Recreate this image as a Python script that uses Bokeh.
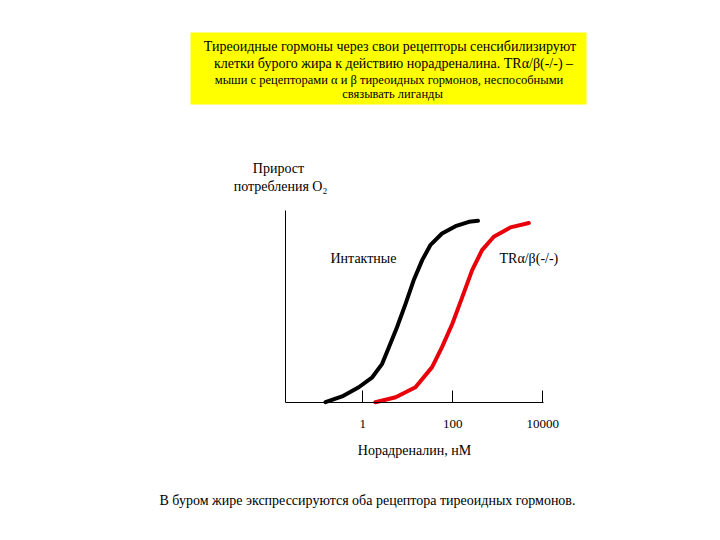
from bokeh.plotting import figure
from bokeh.models import Range1d, Label, FixedTicker, ColumnDataSource, LogAxis, LinearAxis, LogScale
from bokeh.embed import file_html
from bokeh.resources import INLINE

# Data (log10 of noradrenaline concentration, nM) and O2 consumption increase (% of max)
intact_log_nm = [-0.83, -0.46, -0.09, 0.21, 0.43, 0.58, 0.76, 0.95, 1.13, 1.32, 1.50, 1.76, 2.06, 2.36, 2.56]
intact_resp = [0.0, 3.0, 7.8, 13.0, 20.0, 28.7, 39.1, 51.3, 63.6, 74.1, 81.9, 88.0, 91.8, 94.1, 94.6]
ko_log_nm = [0.28, 0.73, 1.17, 1.54, 1.76, 1.99, 2.21, 2.43, 2.65, 2.91, 3.28, 3.69]
ko_resp = [0.0, 2.6, 7.8, 18.3, 28.7, 40.9, 54.8, 68.9, 79.3, 86.3, 91.2, 93.5]
x_ticks = [1, 100, 10000]
x_tick_labels = {1: "1", 100: "100", 10000: "10000"}

intact_x = [10 ** v for v in intact_log_nm]
ko_x = [10 ** v for v in ko_log_nm]

FONT = "Times New Roman"
W, H = 712, 532

# pixel (page) -> data helpers for layout of annotations
X0_PX, PX_PER_DEC = 362.3, 45.0
Y0_PX, Y_SPAN_PX = 401.7, 191.7

def dx(px):
    return 10 ** ((px - X0_PX) / PX_PER_DEC)

def dy(py):
    return (Y0_PX - py) / Y_SPAN_PX * 100.0

X_AX_START = dx(285.0)
X_AX_END = dx(542.6)

p = figure(
    x_axis_type=None, y_axis_type=None,
    x_range=Range1d(dx(0), dx(W)),
    y_range=Range1d(dy(H), dy(0)),
    width=W, height=H,
    min_border=0,
    output_backend="svg", toolbar_location=None,
)
p.x_scale = LogScale()
p.grid.visible = False
p.outline_line_color = None
p.background_fill_color = "white"
p.border_fill_color = "white"

# y axis: bare line
ya = LinearAxis(ticker=FixedTicker(ticks=[]), fixed_location=X_AX_START, bounds=(0, 100))
ya.axis_line_color = "black"
ya.axis_line_width = 1
ya.major_tick_line_color = None
ya.minor_tick_line_color = None
p.add_layout(ya, "left")

# x axis (log)
xa = LogAxis(ticker=FixedTicker(ticks=x_ticks, minor_ticks=[]), fixed_location=0,
             bounds=(X_AX_START, X_AX_END))
xa.major_label_overrides = x_tick_labels
xa.major_tick_in = 12
xa.major_tick_out = 0
xa.major_tick_line_color = "black"
xa.minor_tick_line_color = None
xa.axis_line_color = "black"
xa.major_label_text_font = FONT
xa.major_label_text_font_size = "13px"
xa.major_label_text_color = "black"
xa.major_label_standoff = 18
xa.axis_label = "Норадреналин, нМ"
xa.axis_label_text_font = FONT
xa.axis_label_text_font_style = "normal"
xa.axis_label_text_font_size = "14px"
xa.axis_label_text_color = "black"
xa.axis_label_standoff = 11
p.add_layout(xa, "below")

# yellow title box
p.quad(left=[dx(190)], right=[dx(586)], top=[dy(32)], bottom=[dy(104)],
       fill_color="#ffff00", line_color=None)

src_i = ColumnDataSource(dict(x=intact_x, y=intact_resp))
src_k = ColumnDataSource(dict(x=ko_x, y=ko_resp))
p.line("x", "y", source=src_i, line_color="black", line_width=4, line_join="round", line_cap="round")
p.line("x", "y", source=src_k, line_color="#e8000b", line_width=4, line_join="round", line_cap="round")

def lab(px, py, text, size="14px", align="center"):
    p.add_layout(Label(x=dx(px), y=dy(py), text=text, text_font=FONT, text_font_size=size,
                       text_align=align, text_baseline="middle", text_color="black"))

lab(389.5, 46, "Тиреоидные гормоны через свои рецепторы сенсибилизируют")
lab(393, 63, "клетки бурого жира к действию норадреналина. TRα/β(-/-) –")
lab(388.5, 79, "мыши с рецепторами α и β тиреоидных гормонов, неспособными", size="12.5px")
lab(392, 93, "связывать лиганды", size="12.5px")

lab(278, 168, "Прирост")
lab(280, 186, "потребления O₂")

lab(330, 258, "Интактные", align="left")
lab(499, 258, "TRα/β(-/-)", align="left")

lab(367, 500, "В буром жире экспрессируются оба рецептора тиреоидных гормонов.")

open("out.html", "w").write(file_html(p, INLINE))
